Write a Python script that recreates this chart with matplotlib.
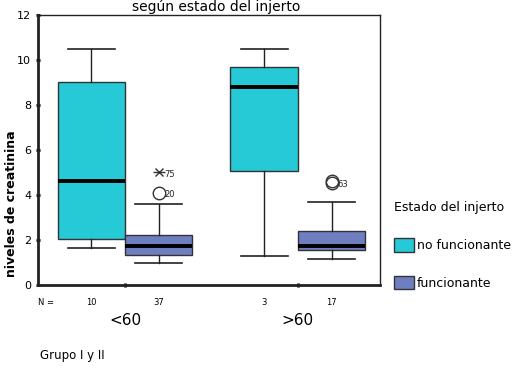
import matplotlib.pyplot as plt
from matplotlib.patches import Patch

# data
grupos = ['<60', '>60']
estados = ['no funcionante', 'funcionante']
colores = ['#26c9d6', '#6f7ec1']
n_casos = [[10, 37], [3, 17]]

# [whislo, q1, med, q3, whishi] per grupo / estado
stats_nf = [[1.65, 2.05, 4.6, 9.0, 10.5], [1.3, 5.05, 8.8, 9.7, 10.5]]
stats_f = [[1.0, 1.35, 1.75, 2.2, 3.6], [1.15, 1.55, 1.75, 2.4, 3.7]]

# outliers: (grupo index, value, case label, kind)
atipicos = [(0, 5.0, '75', 'extremo'), (0, 4.1, '20', 'atipico'),
            (1, 4.55, '63', 'atipico'), (1, 4.62, '', 'atipico')]

fig = plt.figure(figsize=(5.14, 3.68), dpi=100)
ax = fig.add_axes([0.074, 0.2255, 0.665, 0.734])

ancho = 0.39
desp = [-ancho / 2, ancho / 2]
todas = [stats_nf, stats_f]
for j, st in enumerate(todas):
    bx = []
    for i in range(len(grupos)):
        lo, q1, med, q3, hi = st[i]
        bx.append(dict(whislo=lo, q1=q1, med=med, q3=q3, whishi=hi, fliers=[]))
    pos = [i + 1 + desp[j] for i in range(len(grupos))]
    ax.bxp(bx, positions=pos, widths=ancho, patch_artist=True, showfliers=False,
           boxprops=dict(facecolor=colores[j], edgecolor='#333333', linewidth=1),
           medianprops=dict(color='black', linewidth=2.8),
           whiskerprops=dict(color='#222222', linewidth=1),
           capprops=dict(color='#222222', linewidth=1.2), capwidths=ancho * 0.7)

for g, v, lab, kind in atipicos:
    x = g + 1 + desp[1]
    if kind == 'extremo':
        ax.plot(x, v, marker='x', color='#333333', ms=6, mew=1)
        ax.plot(x, v, marker='_', color='#333333', ms=8, mew=1)
    else:
        ax.plot(x, v, marker='o', mfc='none', mec='#333333', ms=9, mew=1)
    if lab:
        ax.annotate(lab, (x, v), xytext=(4, -3), textcoords='offset points',
                    fontsize=6, color='#222222')

ax.set_xlim(0.497, 2.474)
ax.set_ylim(0, 12)
ax.set_yticks(range(0, 13, 2))
ax.tick_params(axis='y', labelsize=8, length=3, width=2, direction='inout')
ax.set_xticks([1, 2])
ax.set_xticklabels(grupos, fontsize=11)
ax.tick_params(axis='x', length=3, width=2, direction='inout', pad=19)
for s in ['left', 'bottom']:
    ax.spines[s].set_linewidth(2)
    ax.spines[s].set_color('#222222')
for s in ['top', 'right']:
    ax.spines[s].set_linewidth(1)
    ax.spines[s].set_color('#222222')

# N row
ax.text(0.0, -0.065, 'N =', transform=ax.transAxes, fontsize=6, va='center')
for i in range(len(grupos)):
    for j in range(2):
        ax.text(i + 1 + desp[j], -0.065, str(n_casos[i][j]),
                transform=ax.get_xaxis_transform(), fontsize=6,
                ha='center', va='center')

ax.set_ylabel('niveles de creatinina', fontsize=9, fontweight='bold')
ax.yaxis.set_label_coords(-0.058, 0.3)
fig.text(0.42, 1 - 11 / 368, 'según estado del injerto', fontsize=10,
         ha='center', va='baseline')
fig.text(0.077, 1 - 355 / 368, 'Grupo I y II', fontsize=8.5, va='center')

handles = [Patch(facecolor=colores[k], edgecolor='#333333') for k in range(2)]
leg = fig.legend(handles, estados, title='Estado del injerto',
                 loc='upper left', bbox_to_anchor=(0.755, 0.47),
                 frameon=False, fontsize=9, title_fontsize=9,
                 handlelength=1.6, handleheight=1.3, labelspacing=1.9,
                 handletextpad=0.2, borderpad=0)
leg._legend_box.align = 'left'

fig.savefig('out.png', dpi=100)
